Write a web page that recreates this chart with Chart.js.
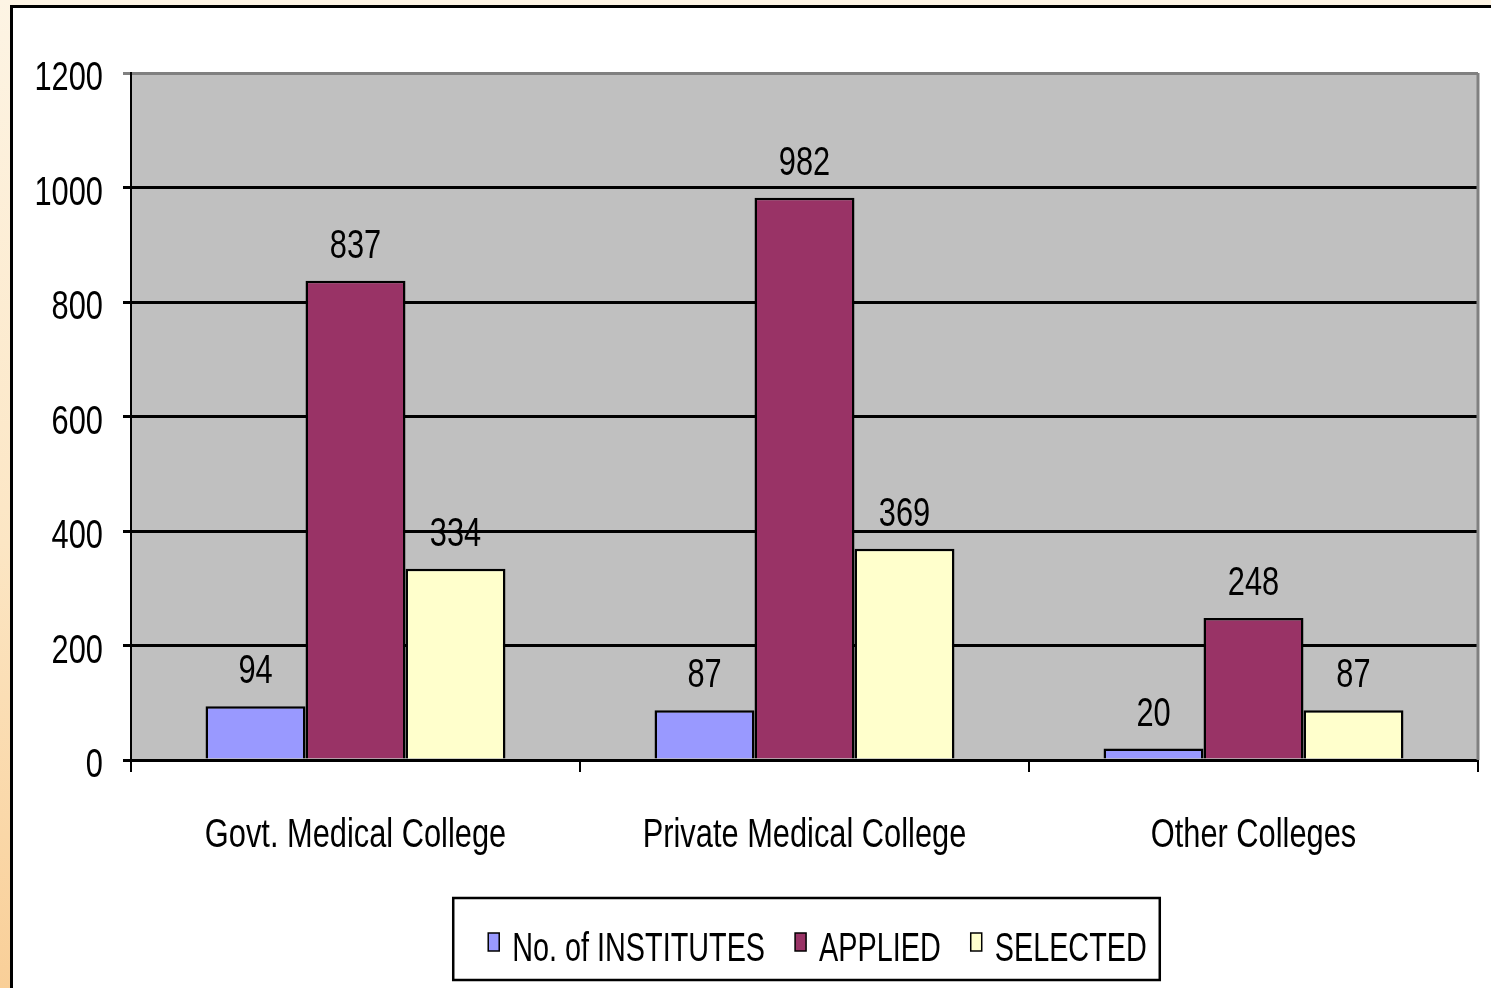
<!DOCTYPE html>
<html lang="en">
<head>
    <meta charset="UTF-8">
    <title>Medical College Admissions</title>
    <script src="https://cdn.jsdelivr.net/npm/chart.js"></script>
    <style>
* {
    margin: 0;
    padding: 0;
    box-sizing: border-box;
}

html, body {
    width: 1491px;
    height: 988px;
    overflow: hidden;
    background: linear-gradient(to bottom, #fdf4e4 0%, #fce6c4 55%, #f9cf98 100%);
    font-family: 'Liberation Sans', Arial, sans-serif;
}

.frame {
    position: absolute;
    left: 10px;
    top: 5px;
    width: 1500px;
    height: 1000px;
    background: #ffffff;
    border: 3px solid #000;
}

.chart-container {
    position: absolute;
    left: 0;
    top: 0;
    width: 1491px;
    height: 988px;
}
    </style>
</head>
<body>
    <div class="frame"></div>
    <div class="chart-container">
        <canvas id="admChart"></canvas>
    </div>

    <script>
        // data
        const categories = ['Govt. Medical College', 'Private Medical College', 'Other Colleges'];
        const seriesNames = ['No. of INSTITUTES', 'APPLIED', 'SELECTED'];
        const institutes = [94, 87, 20];
        const applied = [837, 982, 248];
        const selected = [334, 369, 87];
        const yMax = 1200;
        const yStep = 200;

        const colors = ['#9999ff', '#993366', '#ffffcc'];
        const FONT = "'Liberation Sans', Arial, sans-serif";
        const FSIZE = 40;
        let SQUEEZE = 0.77; // no Arial Narrow here, so squeeze the text sideways

        // every fillText on the page gets drawn narrow
        const origFill = CanvasRenderingContext2D.prototype.fillText;
        CanvasRenderingContext2D.prototype.fillText = function (t, x, y, mw) {
            const w = this.measureText(t).width * SQUEEZE;
            return origFill.call(this, t, x, y, mw !== undefined ? Math.min(mw, w) : w);
        };

        // gray plot area + gray right edge
        const plotBg = {
            id: 'plotBg',
            beforeDraw(chart) {
                const a = chart.chartArea, c = chart.ctx;
                c.save();
                c.fillStyle = '#c0c0c0';
                c.fillRect(a.left, a.top, a.right - a.left, a.bottom - a.top);
                c.restore();
            },
            beforeDatasetsDraw(chart) {
                const a = chart.chartArea, c = chart.ctx;
                c.save();
                c.strokeStyle = '#808080';
                c.lineWidth = 3;
                c.beginPath();
                c.moveTo(a.right, a.top);
                c.lineTo(a.right, a.bottom);
                c.stroke();
                c.restore();
            }
        };

        // value labels above the bars
        const valueLabels = {
            id: 'valueLabels',
            afterDatasetsDraw(chart) {
                const c = chart.ctx;
                c.save();
                c.font = FSIZE + 'px ' + FONT;
                c.fillStyle = '#000';
                c.textAlign = 'center';
                c.textBaseline = 'alphabetic';
                chart.data.datasets.forEach((ds, i) => {
                    chart.getDatasetMeta(i).data.forEach((bar, j) => {
                        c.fillText(ds.data[j], bar.x, bar.y - 23);
                    });
                });
                c.restore();
            }
        };

        // boxed legend under the axis
        const boxLegend = {
            id: 'boxLegend',
            afterDraw(chart) {
                const c = chart.ctx, a = chart.chartArea;
                const markW = 11, markH = 18, gap = 13, itemGap = 30;
                const sq = 0.72;
                c.save();
                c.font = FSIZE + 'px ' + FONT;
                const widths = chart.data.datasets.map(ds => markW + gap + c.measureText(ds.label).width * sq);
                const total = widths.reduce((s, w) => s + w, 0) + itemGap * (widths.length - 1);
                const boxW = total + 48;
                const cx = (a.left + a.right) / 2 + 2;
                const boxL = cx - boxW / 2;
                const boxT = 898, boxH = 82;
                c.fillStyle = '#fff';
                c.fillRect(boxL, boxT, boxW, boxH);
                c.strokeStyle = '#000';
                c.lineWidth = 2.5;
                c.strokeRect(boxL, boxT, boxW, boxH);

                let x = boxL + 35;
                const midY = 950;
                const keep = SQUEEZE;
                SQUEEZE = sq;
                chart.data.datasets.forEach((ds, i) => {
                    c.fillStyle = ds.backgroundColor;
                    c.fillRect(x, midY - 17, markW, markH);
                    c.strokeStyle = '#000';
                    c.lineWidth = 1.5;
                    c.strokeRect(x, midY - 17, markW, markH);
                    c.fillStyle = '#000';
                    c.textAlign = 'left';
                    c.textBaseline = 'middle';
                    c.fillText(ds.label, x + markW + gap, midY);
                    x += widths[i] + itemGap;
                });
                SQUEEZE = keep;
                c.restore();
            }
        };

        const ctx = document.getElementById('admChart').getContext('2d');

        new Chart(ctx, {
            type: 'bar',
            data: {
                labels: categories,
                datasets: [
                    { label: seriesNames[0], data: institutes },
                    { label: seriesNames[1], data: applied },
                    { label: seriesNames[2], data: selected }
                ].map((ds, i) => Object.assign(ds, {
                    backgroundColor: colors[i],
                    borderColor: '#000',
                    borderWidth: 2.5,
                    borderSkipped: 'bottom',
                    categoryPercentage: 0.668,
                    barPercentage: 1
                }))
            },
            options: {
                responsive: true,
                maintainAspectRatio: false,
                animation: false,
                layout: {
                    padding: { left: 0, top: 73, right: 13, bottom: 90 }
                },
                plugins: {
                    legend: { display: false },
                    tooltip: { enabled: false }
                },
                scales: {
                    x: {
                        offset: true,
                        grid: {
                            offset: true,
                            drawOnChartArea: false,
                            drawTicks: true,
                            tickLength: 12,
                            color: '#000',
                            lineWidth: 2
                        },
                        border: { color: '#000', width: 3 },
                        ticks: {
                            color: '#000',
                            padding: 40,
                            font: { family: FONT, size: FSIZE }
                        },
                        afterFit(scale) { scale.height = 138; }
                    },
                    y: {
                        min: 0,
                        max: yMax,
                        ticks: {
                            stepSize: yStep,
                            color: '#000',
                            padding: 20,
                            labelOffset: 6,
                            font: { family: FONT, size: FSIZE },
                            callback: v => String(v)
                        },
                        grid: {
                            color: c => (c.tick && c.tick.value === yMax) ? '#808080' : '#000',
                            lineWidth: 3,
                            tickLength: 8
                        },
                        border: { color: '#000', width: 2 },
                        afterFit(scale) { scale.width = 131; }
                    }
                }
            },
            plugins: [plotBg, valueLabels, boxLegend]
        });
    </script>
</body>
</html>
